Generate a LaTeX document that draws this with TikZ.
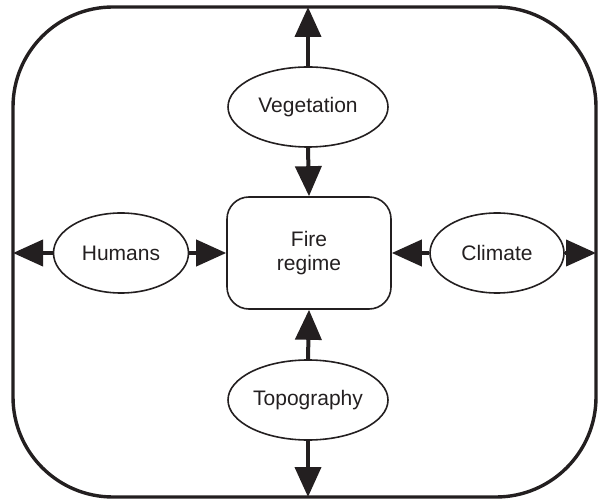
\documentclass[tikz,border=0pt]{standalone}
\usepackage{fontspec}
\setmainfont{Liberation Sans}
\usetikzlibrary{arrows.meta}
\usetikzlibrary{shapes.geometric}
\definecolor{ink}{HTML}{231F20}

\begin{document}
\begin{tikzpicture}[x=0.5pt,y=-0.5pt,
  factor/.style={draw=ink,text=ink,ellipse,line width=0.8pt,minimum height=40pt,inner sep=0pt,font=\fontsize{10.5}{12}\selectfont},
  regime/.style={draw=ink,text=ink,rounded corners=11pt,line width=0.8pt,minimum width=82pt,minimum height=56pt,align=center,font=\fontsize{10.5}{12}\selectfont},
  link/.style={draw=ink,line width=2pt,-{Triangle[length=15pt,width=13pt]}}]
\useasboundingbox (0,0) rectangle (598,501);
% outer frame
\draw[ink,line width=1.7pt,rounded corners=50pt] (13,7) rectangle (596,497);
\coordinate (top) at (308,7);
\coordinate (bottom) at (308,497);
\coordinate (left) at (13,253);
\coordinate (right) at (596,253);
% nodes
\node[regime] (fire) at (309,253) {Fire\\regime};
\node[factor,minimum width=80pt] (veg) at (308,107) {Vegetation};
\node[factor,minimum width=80pt] (topo) at (308,400) {Topography};
\node[factor,minimum width=67.5pt] (hum) at (121,253) {Humans};
\node[factor,minimum width=67pt] (clim) at (497,253) {Climate};
% arrows
\draw[link] (veg.north) -- (top);
\draw[link] (veg.south) -- (fire.north);
\draw[link] (topo.south) -- (bottom);
\draw[link] (topo.north) -- (fire.south);
\draw[link] (hum.west) -- (left);
\draw[link] (hum.east) -- (fire.west);
\draw[link] (clim.east) -- (right);
\draw[link] (clim.west) -- (fire.east);
\end{tikzpicture}
\end{document}
